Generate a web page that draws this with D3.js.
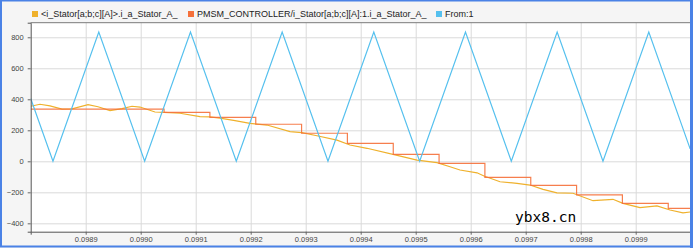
<!DOCTYPE html>
<html>
<head>
<meta charset="utf-8">
<script src="https://cdn.jsdelivr.net/npm/d3@7"></script>
<style>
  html, body { margin: 0; padding: 0; background: #f5f5f5; }
  svg { display: block; font-family: "Liberation Sans", Arial, sans-serif; }
</style>
</head>
<body>
<svg width="693" height="248"></svg>
<script>
// legend names
const seriesNames = ['<i_Stator[a;b;c][A]>.i_a_Stator_A_', 'PMSM_CONTROLLER/i_Stator[a;b;c][A]:1.i_a_Stator_A_', 'From:1'];
const seriesColors = ['#efb12c', '#f5703a', '#55c0ee'];

// tick labels
const xTicks = [0.0989, 0.0990, 0.0991, 0.0992, 0.0993, 0.0994, 0.0995, 0.0996, 0.0997, 0.0998, 0.0999];
const yTicks = [-400, -200, 0, 200, 400, 600, 800];

// measured current (yellow) : time, value
const measT = [0.0988000, 0.0988169, 0.0988351, 0.0988569, 0.0988751, 0.0989042, 0.0989224, 0.0989442, 0.0989660, 0.0989842,
  0.0989987, 0.0990260, 0.0990424, 0.0990715, 0.0991078, 0.0991260, 0.0991442, 0.0991715, 0.0991987, 0.0992296,
  0.0992715, 0.0992933, 0.0993205, 0.0993569, 0.0993805, 0.0994115, 0.0994587, 0.0995024, 0.0995387, 0.0995624,
  0.0995805, 0.0996115, 0.0996242, 0.0996533, 0.0996842, 0.0997078, 0.0997315, 0.0997569, 0.0997860, 0.0998224,
  0.0998587, 0.0998769, 0.0999078, 0.0999387, 0.0999624, 0.0999860, 0.0999990];
const measV = [355, 368, 358, 337, 338, 365, 352, 327, 340, 355,
  350, 318, 316, 310, 288, 286, 278, 262, 245, 234,
  191, 185, 165, 137, 105, 84, 45, 8, -9, -35,
  -56, -74, -95, -132, -142, -153, -181, -203, -206, -254,
  -245, -271, -299, -288, -314, -332, -327];

// sampled controller current (orange steps): step start time, held value
const stepT = [0.0988000, 0.0990425, 0.0991258, 0.0992092, 0.0992925, 0.0993758, 0.0994592, 0.0995425, 0.0996258,
  0.0997092, 0.0997925, 0.0998758, 0.0999592, 0.0999990];
const stepV = [337, 316, 284, 239, 181, 116, 45, -13, -103, -155, -217, -271, -303, -303];

// carrier (blue triangle) vertices
const carT = [0.0988000, 0.0988405, 0.0989238, 0.0990072, 0.0990905, 0.0991738, 0.0992572, 0.0993405, 0.0994238,
  0.0995072, 0.0995905, 0.0996738, 0.0997572, 0.0998405, 0.0999238, 0.0999990];
const carV = [405, 0, 833, 0, 833, 0, 833, 0, 833, 0, 833, 0, 833, 0, 833, 80];

const svg = d3.select('svg');
const plot = {left: 30.7, right: 690.7, top: 22.7, bottom: 231.7};

const x = d3.scaleLinear().domain([0.0988, 0.1]).range([plot.left, plot.right]);
const y = d3.scaleLinear().domain([-454, 894]).range([plot.bottom, plot.top]);

// plot background
svg.append('rect')
  .attr('x', plot.left).attr('y', plot.top)
  .attr('width', plot.right - plot.left).attr('height', plot.bottom - plot.top)
  .attr('fill', '#ffffff');

// grid
svg.append('g')
  .attr('transform', 'translate(0,' + plot.bottom + ')')
  .call(d3.axisBottom(x).tickValues(xTicks).tickSize(-(plot.bottom - plot.top)).tickFormat(''))
  .call(g => g.select('.domain').remove())
  .call(g => g.selectAll('line').attr('stroke', '#dadada'));
svg.append('g')
  .attr('transform', 'translate(' + plot.left + ',0)')
  .call(d3.axisLeft(y).tickValues(yTicks).tickSize(-(plot.right - plot.left)).tickFormat(''))
  .call(g => g.select('.domain').remove())
  .call(g => g.selectAll('line').attr('stroke', '#dadada'));

// lines
const toPts = (ts, vs) => ts.map((t, i) => [t, vs[i]]);
const line = d3.line().x(d => x(d[0])).y(d => y(d[1]));
const stepLine = d3.line().x(d => x(d[0])).y(d => y(d[1])).curve(d3.curveStepAfter);

const clip = svg.append('clipPath').attr('id', 'clip').append('rect')
  .attr('x', plot.left).attr('y', plot.top)
  .attr('width', plot.right - plot.left).attr('height', plot.bottom - plot.top);

const lines = svg.append('g').attr('clip-path', 'url(#clip)');
lines.append('path')
  .attr('d', line(toPts(measT, measV)))
  .attr('fill', 'none').attr('stroke', seriesColors[0]).attr('stroke-width', 1.2);
lines.append('path')
  .attr('d', stepLine(toPts(stepT, stepV)))
  .attr('fill', 'none').attr('stroke', seriesColors[1]).attr('stroke-width', 1.2).attr('opacity', 0.9);
lines.append('path')
  .attr('d', line(toPts(carT, carV)))
  .attr('fill', 'none').attr('stroke', seriesColors[2]).attr('stroke-width', 1.2);

// axes
const xAxis = svg.append('g')
  .attr('transform', 'translate(0,' + plot.bottom + ')')
  .call(d3.axisBottom(x).tickValues(xTicks).tickSize(3).tickPadding(2).tickFormat(d3.format('.4f')));
const yAxis = svg.append('g')
  .attr('transform', 'translate(' + plot.left + ',0)')
  .call(d3.axisLeft(y).tickValues(yTicks).tickSize(3).tickPadding(4).tickFormat(d3.format('d')));
[xAxis, yAxis].forEach(a => {
  a.selectAll('text').attr('fill', '#444').style('font-size', '7.5px').style('font-family', '"Liberation Sans", Arial, sans-serif');
  a.selectAll('line').attr('stroke', '#666');
  a.select('.domain').attr('stroke', '#555');
});
// top border of plot
svg.append('line')
  .attr('x1', plot.left).attr('x2', plot.right)
  .attr('y1', plot.top).attr('y2', plot.top)
  .attr('stroke', '#7a7a7a');

// legend
const legendX = [32, 188, 436];
const legend = svg.append('g');
seriesNames.forEach((name, i) => {
  legend.append('rect')
    .attr('x', legendX[i]).attr('y', 11)
    .attr('width', 6).attr('height', 6)
    .attr('fill', seriesColors[i]);
  legend.append('text')
    .attr('x', legendX[i] + 9).attr('y', 17.3)
    .attr('fill', '#222')
    .style('font-size', '9px')
    .text(name);
});

// watermark
svg.append('text')
  .attr('x', 515).attr('y', 222)
  .style('font-family', '"DejaVu Sans Mono", monospace')
  .style('font-size', '14.5px')
  .attr('fill', '#000')
  .text('ybx8.cn');

// window frame
svg.append('path')
  .attr('d', 'M1,0.5 H691.5 V246.5 H1 Z')
  .attr('fill', 'none')
  .attr('stroke', '#4a82e6')
  .attr('stroke-width', 2);
svg.append('rect')
  .attr('x', 690).attr('y', 0).attr('width', 3).attr('height', 248)
  .attr('fill', '#4a82e6');
</script>
</body>
</html>
